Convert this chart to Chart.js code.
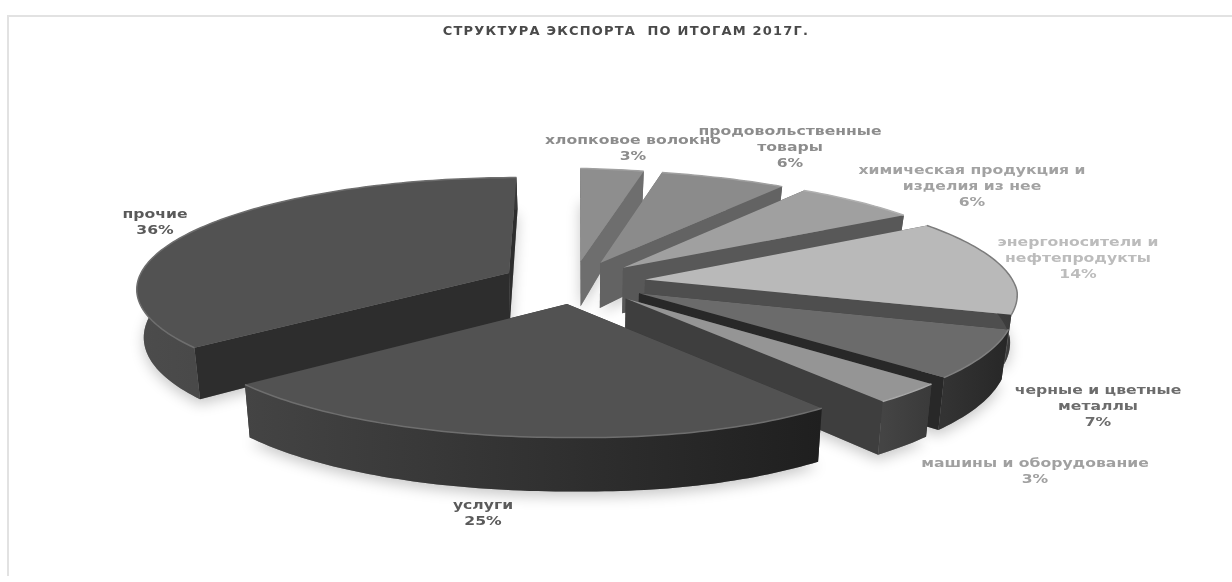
<!DOCTYPE html>
<html>
<head>
<meta charset="utf-8">
<title>Структура экспорта</title>
<script src="https://cdn.jsdelivr.net/npm/chart.js@4"></script>
<style>
html, body { margin: 0; padding: 0; background: #fff; overflow: hidden; }
#frame { position: absolute; left: 7px; top: 15px; right: -2px; bottom: 6px; border-left: 2px solid #e2e2e2; border-top: 2px solid #e2e2e2; }
canvas { position: absolute; left: 0; top: 0; }
</style>
</head>
<body>
<div id="frame"></div>
<canvas id="ChartCanvas" width="1232" height="582"></canvas>
<script>
// data
const categories = [
	['хлопковое волокно'],
	['продовольственные', 'товары'],
	['химическая продукция и', 'изделия из нее'],
	['энергоносители и', 'нефтепродукты'],
	['черные и цветные', 'металлы'],
	['машины и оборудование'],
	['услуги'],
	['прочие']
];
const shares = [3, 6, 6, 14, 7, 3, 25, 36];

// styles
const topColors = ['#8e8e8e', '#8b8b8b', '#a0a0a0', '#b9b9b9', '#6b6b6b', '#959595', '#525252', '#525252'];
const cutColors = ['#6e6e6e', '#636363', '#585858', '#4e4e4e', '#282828', '#3e3e3e', '#333333', '#2d2d2d'];
const rimLeft = ['#6e6e6e', '#636363', '#585858', '#4e4e4e', '#333333', '#444444', '#444444', '#4c4c4c'];
const rimRight = ['#6e6e6e', '#636363', '#585858', '#3a3a3a', '#272727', '#3a3a3a', '#1f1f1f', '#383838'];
const bevelColors = ['#a0a0a0', '#a0a0a0', '#b0b0b0', '#7c7c7c', '#808080', '#a8a8a8', '#6e6e6e', '#6e6e6e'];
const labelColors = ['#8c8c8c', '#8c8c8c', '#a2a2a2', '#bcbcbc', '#6c6c6c', '#a0a0a0', '#5a5a5a', '#5a5a5a'];
const labelPos = [[633, 141], [790, 132], [972, 171], [1078, 243], [1098, 391], [1035, 464], [483, 506], [155, 215]];
const drawOrder = [0, 1, 2, 7, 3, 4, 5, 6];

// 3d view of the pie
const view = { cx: 574, cy: 282, rx: 372, ry: 110, persp: 0.13, explode: 0.195 };

function project(u, v) {
	let p = 1 + view.persp * v;
	let x = view.cx + view.rx * u / p;
	let y = view.cy - view.ry * v / p;
	// the right half of the original sits slightly turned
	if (u > 0) x += (v > 0 ? 14 : 26) * v * u;
	if (x > view.cx) y += 0.02 * (x - view.cx);
	return [x, y];
}
function projectLow(u, v) {
	let t = project(u, v);
	return [t[0] - 6 * u, t[1] + 47 - 10 * v - 3.5 * v * v];
}

function sliceGeom(arc) {
	let a0 = arc.startAngle + Math.PI / 2;
	let a1 = arc.endAngle + Math.PI / 2;
	let mid = (a0 + a1) / 2;
	let ou = view.explode * Math.sin(mid);
	let ov = view.explode * Math.cos(mid);
	let rim = [];
	let n = Math.max(2, Math.ceil((a1 - a0) / 0.02));
	for (let i = 0; i <= n; i++) {
		let a = a0 + (a1 - a0) * i / n;
		rim.push([ou + Math.sin(a), ov + Math.cos(a)]);
	}
	return { apex: [ou, ov], rim: rim };
}

function poly(ctx, pts) {
	ctx.beginPath();
	pts.forEach(function (p, i) {
		if (i == 0) ctx.moveTo(p[0], p[1]); else ctx.lineTo(p[0], p[1]);
	});
	ctx.closePath();
}

function drawSlice(ctx, g, i) {
	let top = g.rim.map(function (p) { return project(p[0], p[1]); });
	let low = g.rim.map(function (p) { return projectLow(p[0], p[1]); });
	let at = project(g.apex[0], g.apex[1]);
	let al = projectLow(g.apex[0], g.apex[1]);
	let last = top.length - 1;

	// cut walls
	ctx.fillStyle = cutColors[i];
	poly(ctx, [at, top[0], low[0], al]);
	ctx.fill();
	poly(ctx, [at, top[last], low[last], al]);
	ctx.fill();

	// outer wall
	let xs = top.map(function (p) { return p[0]; });
	let grad = ctx.createLinearGradient(Math.min.apply(null, xs), 0, Math.max.apply(null, xs), 0);
	grad.addColorStop(0, rimLeft[i]);
	grad.addColorStop(1, rimRight[i]);
	ctx.fillStyle = grad;
	poly(ctx, top.concat(low.slice().reverse()));
	ctx.fill();

	// top face and its bevel
	ctx.fillStyle = topColors[i];
	poly(ctx, [at].concat(top));
	ctx.fill();
	ctx.strokeStyle = bevelColors[i];
	ctx.lineWidth = 1.5;
	ctx.beginPath();
	top.forEach(function (p, k) {
		if (k == 0) ctx.moveTo(p[0], p[1]); else ctx.lineTo(p[0], p[1]);
	});
	ctx.stroke();
}

const pie3d = {
	id: 'pie3d',
	beforeDraw: function (chart) {
		chart.ctx.letterSpacing = '1.2px';
	},
	beforeDatasetsDraw: function (chart) {
		let ctx = chart.ctx;
		let arcs = chart.getDatasetMeta(0).data;
		let geoms = arcs.map(sliceGeom);

		// soft shadow under the slices
		ctx.save();
		ctx.shadowColor = 'rgba(0,0,0,0.22)';
		ctx.shadowBlur = 14;
		ctx.shadowOffsetY = 5;
		ctx.fillStyle = '#888';
		geoms.forEach(function (g) {
			let low = g.rim.map(function (p) { return projectLow(p[0], p[1]); });
			poly(ctx, [projectLow(g.apex[0], g.apex[1])].concat(low));
			ctx.fill();
		});
		ctx.restore();

		drawOrder.forEach(function (i) { drawSlice(ctx, geoms[i], i); });
		return false;
	},
	afterDraw: function (chart) {
		let ctx = chart.ctx;
		ctx.save();
		ctx.letterSpacing = '0px';
		ctx.font = 'bold 12.5px "DejaVu Sans"';
		ctx.textAlign = 'center';
		ctx.textBaseline = 'middle';
		chart.data.labels.forEach(function (lines, i) {
			ctx.fillStyle = labelColors[i];
			let rows = lines.concat([chart.data.datasets[0].data[i] + '%']);
			rows.forEach(function (t, k) {
				ctx.save();
				ctx.translate(labelPos[i][0], labelPos[i][1] + k * 16);
				ctx.scale(1.25, 1);
				ctx.fillText(t, 0, 0);
				ctx.restore();
			});
		});
		ctx.restore();
	}
};

var ctx = document.getElementById('ChartCanvas').getContext('2d');
var chart = new Chart(ctx, {
	type: 'pie',
	data: {
		labels: categories,
		datasets: [{
			data: shares,
			backgroundColor: topColors,
			borderWidth: 0
		}]
	},
	options: {
		responsive: false,
		animation: false,
		layout: { padding: { left: 20 } },
		plugins: {
			legend: { display: false },
			tooltip: { enabled: false },
			title: {
				display: true,
				text: 'СТРУКТУРА ЭКСПОРТА  ПО ИТОГАМ 2017Г.',
				color: '#4a4a4a',
				font: { family: '"DejaVu Sans"', size: 13, weight: 'bold' },
				padding: { top: 24, bottom: 0 }
			}
		}
	},
	plugins: [pie3d]
});
</script>
</body>
</html>
